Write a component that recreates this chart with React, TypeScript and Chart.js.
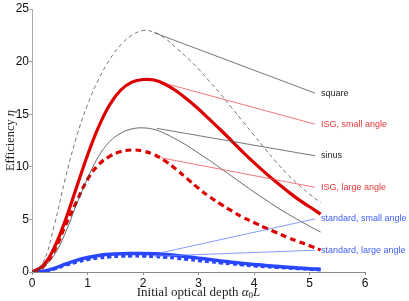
import React, { useEffect, useRef } from 'react';
import { Chart, registerables } from 'chart.js';

Chart.register(...registerables);

// Initial optical depth values (x)
const depth = [0, 0.2, 0.4, 0.6, 0.8, 1.0, 1.2, 1.4, 1.6, 1.8, 2.0, 2.2, 2.4, 2.6, 2.8, 3.0, 3.2, 3.4, 3.6, 3.8, 4.0, 4.2, 4.4, 4.6, 4.8, 5.0, 5.2];

// Efficiency series
const square = [0, 0.9, 4.4, 8.9, 12.8, 15.9, 18.3, 20.2, 21.6, 22.5, 22.95, 22.8, 22.2, 21.3, 20.35, 19.3, 18.1, 16.9, 15.6, 14.3, 13.0, 11.7, 10.45, 9.3, 8.3, 7.4, 6.6];
const isgSmall = [0, 0.6, 2.3, 4.9, 8.0, 11.1, 13.8, 15.9, 17.3, 18.05, 18.3, 18.25, 17.85, 17.2, 16.4, 15.5, 14.5, 13.5, 12.45, 11.4, 10.4, 9.45, 8.55, 7.7, 6.9, 6.2, 5.5];
const sinus = [0, 0.45, 1.6, 3.7, 6.4, 8.9, 11.0, 12.4, 13.2, 13.6, 13.7, 13.55, 13.15, 12.6, 12.0, 11.3, 10.6, 9.85, 9.1, 8.35, 7.6, 6.9, 6.2, 5.55, 4.95, 4.35, 3.8];
const isgLarge = [0, 0.5, 2.0, 4.4, 6.65, 8.8, 10.2, 11.0, 11.45, 11.6, 11.5, 11.15, 10.55, 9.75, 8.85, 7.95, 7.15, 6.45, 5.8, 5.2, 4.7, 4.2, 3.75, 3.3, 2.9, 2.5, 2.1];
const stdSmall = [0, 0.08, 0.35, 0.75, 1.1, 1.38, 1.57, 1.68, 1.74, 1.76, 1.76, 1.73, 1.67, 1.57, 1.45, 1.32, 1.18, 1.05, 0.93, 0.82, 0.72, 0.62, 0.54, 0.46, 0.39, 0.32, 0.27];
const stdLarge = [0, 0.06, 0.28, 0.62, 0.93, 1.17, 1.33, 1.43, 1.49, 1.51, 1.50, 1.46, 1.39, 1.30, 1.19, 1.08, 0.97, 0.86, 0.76, 0.66, 0.58, 0.50, 0.43, 0.36, 0.30, 0.25, 0.20];

// Curve labels and their leader lines
const labelNames = ['square', 'ISG, small angle', 'sinus', 'ISG, large angle', 'standard, small angle', 'standard, large angle'];
const leaderStartX = [2.2, 2.42, 2.25, 2.33, 2.3, 2.2];
const leaderStartY = [22.75, 17.9, 13.65, 10.85, 1.8, 1.5];
const leaderEndX = [5.1, 5.1, 5.1, 5.1, 5.1, 5.1];
const leaderEndY = [17.0, 14.05, 11.05, 8.05, 5.05, 2.07];

// Axis ticks
const xTicks = [0, 1, 2, 3, 4, 5, 6];
const yTicks = [0, 5, 10, 15, 20, 25];

const RED = '#dd0000';
const BLUE = '#2846ff';
const GREY = '#444444';
const leaderColors = ['#555555', '#f05555', '#555555', '#f05555', '#6680ff', '#6680ff'];
const labelColors = ['#222222', '#e83838', '#222222', '#e83838', '#4060ff', '#4060ff'];

const pts = (ys: number[]) => depth.map((x, i) => ({ x, y: ys[i] }));

const overlay = {
  id: 'overlay',
  afterDraw(chart: any) {
    const ctx = chart.ctx;
    const xs = chart.scales.x;
    const ys = chart.scales.y;
    const ca = chart.chartArea;
    ctx.save();
    ctx.font = '9px "Liberation Sans", Arial, sans-serif';
    ctx.textAlign = 'left';
    ctx.textBaseline = 'middle';
    labelNames.forEach((name, i) => {
      ctx.fillStyle = labelColors[i];
      ctx.fillText(name, xs.getPixelForValue(leaderEndX[i]) + 6, ys.getPixelForValue(leaderEndY[i]));
    });
    const serif = '"Liberation Serif", "DejaVu Serif", serif';
    const parts = [
      { t: 'Initial optical depth ', f: `13px ${serif}`, dy: 0 },
      { t: 'α', f: `italic 13px ${serif}`, dy: 0 },
      { t: '0', f: `9px ${serif}`, dy: 3 },
      { t: 'L', f: `italic 13px ${serif}`, dy: 0 },
    ];
    let total = 0;
    parts.forEach((p) => { ctx.font = p.f; total += ctx.measureText(p.t).width; });
    let x = (ca.left + ca.right) / 2 - total / 2;
    const ty = 293;
    ctx.fillStyle = '#222222';
    parts.forEach((p) => {
      ctx.font = p.f;
      ctx.fillText(p.t, x, ty + p.dy);
      x += ctx.measureText(p.t).width;
    });
    const yparts = [
      { t: 'Efficiency ', f: `12.5px ${serif}` },
      { t: 'η', f: `italic 12.5px ${serif}` },
    ];
    let ytotal = 0;
    yparts.forEach((p) => { ctx.font = p.f; ytotal += ctx.measureText(p.t).width; });
    ctx.translate(11, (ca.top + ca.bottom) / 2);
    ctx.rotate(-Math.PI / 2);
    let yx = -ytotal / 2;
    yparts.forEach((p) => {
      ctx.font = p.f;
      ctx.fillText(p.t, yx, 0);
      yx += ctx.measureText(p.t).width;
    });
    ctx.restore();
  },
};

export default function App() {
  const ref = useRef<HTMLCanvasElement | null>(null);
  useEffect(() => {
    if (!ref.current) return;
    const curve = (data: number[], color: string, width: number, dash: number[] = []) => ({
      data: pts(data),
      borderColor: color,
      backgroundColor: color,
      borderWidth: width,
      borderDash: dash,
      pointRadius: 0,
      tension: 0.4,
      fill: false,
    });
    const leaders = labelNames.map((_, i) => ({
      data: [
        { x: leaderStartX[i], y: leaderStartY[i] },
        { x: leaderEndX[i], y: leaderEndY[i] },
      ],
      borderColor: leaderColors[i],
      borderWidth: 0.8,
      pointRadius: 0,
      fill: false,
    }));
    const chart = new Chart(ref.current, {
      type: 'line',
      data: {
        datasets: [
          ...leaders,
          curve(square, '#555555', 0.8, [4, 3]),
          curve(sinus, GREY, 0.8),
          curve(isgSmall, RED, 3.2),
          curve(isgLarge, RED, 3.2, [6, 4]),
          curve(stdSmall, BLUE, 3.5),
          curve(stdLarge, BLUE, 3, [4, 3]),
        ] as any,
      },
      options: {
        animation: false,
        responsive: false,
        maintainAspectRatio: false,
        layout: { padding: { top: 9, right: 44, left: 0, bottom: 0 } },
        plugins: { legend: { display: false }, tooltip: { enabled: false } },
        scales: {
          x: {
            type: 'linear',
            min: 0,
            max: 6,
            afterBuildTicks: (s: any) => { s.ticks = xTicks.map((v) => ({ value: v })); },
            afterFit: (s: any) => { s.height = 29; },
            grid: { drawOnChartArea: false, tickLength: 3, color: '#888888' },
            border: { color: '#888888', width: 1 },
            ticks: { color: '#111111', padding: 1, font: { family: '"Liberation Sans", Arial, sans-serif', size: 12 } },
          },
          y: {
            type: 'linear',
            min: 0,
            max: 25,
            afterBuildTicks: (s: any) => { s.ticks = yTicks.map((v) => ({ value: v })); },
            afterFit: (s: any) => { s.width = 32; },
            grid: { drawOnChartArea: false, tickLength: 3, color: '#aaaaaa' },
            border: { color: '#aaaaaa', width: 1 },
            ticks: { color: '#111111', padding: 0, font: { family: '"Liberation Sans", Arial, sans-serif', size: 12 } },
          },
        },
      },
      plugins: [overlay],
    });
    return () => chart.destroy();
  }, []);
  return (
    <div style={{ position: 'fixed', left: 0, top: 0, width: 409, height: 301, background: '#fff' }}>
      <canvas ref={ref} width={409} height={301} style={{ width: 409, height: 301 }} />
    </div>
  );
}
